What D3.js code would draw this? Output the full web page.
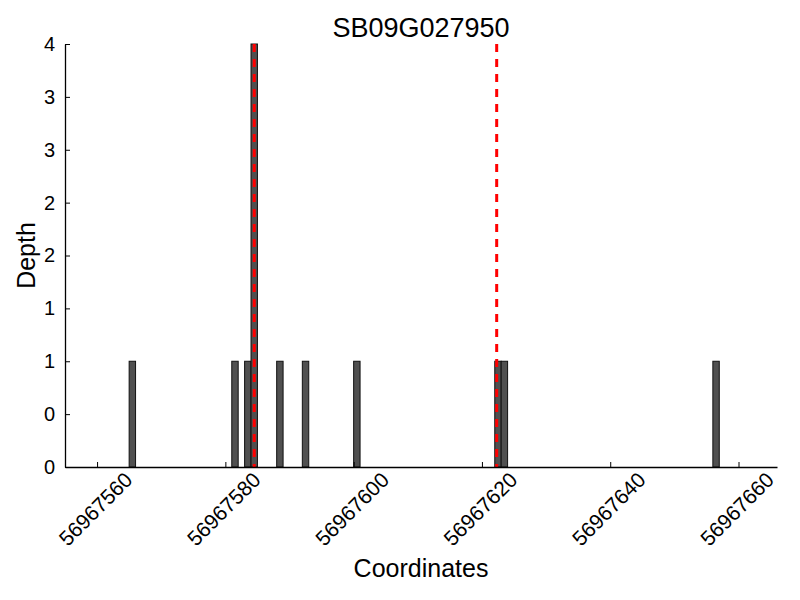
<!DOCTYPE html>
<html>
<head>
<meta charset="utf-8">
<script src="https://cdn.jsdelivr.net/npm/d3@7"></script>
<style>
  body { margin: 0; background: #fff; }
  svg { display: block; font-family: "Liberation Sans", Arial, sans-serif; }
</style>
</head>
<body>
<div class="depthchart"></div>
<script>
// read depth positions (bar left edge) and depth values
const positions = [56967565, 56967581, 56967583, 56967584, 56967588, 56967592, 56967600, 56967622, 56967623, 56967656];
const depths = [1, 1, 1, 4, 1, 1, 1, 1, 1, 1];
// red dashed markers
const markers = [56967584.5, 56967622.3];

const xTicks = [56967560, 56967580, 56967600, 56967620, 56967640, 56967660];
const yTicks = [0, 0.5, 1, 1.5, 2, 2.5, 3, 3.5, 4];
const yTickLabels = ["0", "0", "1", "1", "2", "2", "3", "3", "4"];

const title = "SB09G027950";

const width = 800;
const height = 600;
const margin = { top: 44, right: 23, bottom: 133, left: 65 };

const svg = d3
  .select(".depthchart")
  .append("svg")
  .attr("width", width)
  .attr("height", height);

const x = d3
  .scaleLinear()
  .domain([56967555, 56967666])
  .range([margin.left, width - margin.right]);

const y = d3
  .scaleLinear()
  .domain([0, 4])
  .range([height - margin.bottom, margin.top]);

// bars
svg
  .append("g")
  .selectAll("rect")
  .data(positions.map((p, i) => ({ pos: p, depth: depths[i] })))
  .enter()
  .append("rect")
  .attr("x", (d) => x(d.pos))
  .attr("width", (d) => x(d.pos + 1) - x(d.pos))
  .attr("y", (d) => y(d.depth))
  .attr("height", (d) => y(0) - y(d.depth))
  .style("fill", "#505050")
  .style("stroke", "#111")
  .style("stroke-width", 1);

// red dashed lines
svg
  .append("g")
  .selectAll("line")
  .data(markers)
  .enter()
  .append("line")
  .attr("x1", (d) => x(d))
  .attr("x2", (d) => x(d))
  .attr("y1", y(4))
  .attr("y2", y(0))
  .style("stroke", "#ff0000")
  .style("stroke-width", 3)
  .style("stroke-dasharray", "8,7");

// x axis
const xAxis = svg
  .append("g")
  .attr("transform", `translate(0, ${y(0)})`)
  .call(
    d3.axisBottom(x)
      .tickValues(xTicks)
      .tickFormat(d3.format("d"))
      .tickSizeInner(-5)
      .tickSizeOuter(0)
  );

xAxis.select(".domain").attr("stroke", "#000").attr("stroke-width", 1.3);
xAxis.selectAll(".tick line").attr("stroke", "#000");
xAxis
  .selectAll(".tick text")
  .attr("font-size", 21)
  .attr("font-family", "Liberation Sans, Arial, sans-serif")
  .attr("fill", "#000")
  .attr("text-anchor", "middle")
  .attr("dy", "0.35em")
  .attr("y", 0)
  .attr("transform", "translate(-2, 42) rotate(-45)");

// y axis
const yAxis = svg
  .append("g")
  .attr("transform", `translate(${x.range()[0]}, 0)`)
  .call(
    d3.axisLeft(y)
      .tickValues(yTicks)
      .tickFormat((d, i) => yTickLabels[i])
      .tickSizeInner(-5)
      .tickSizeOuter(0)
      .tickPadding(10)
  );

yAxis.select(".domain").attr("stroke", "#000").attr("stroke-width", 1.3);
yAxis.selectAll(".tick line").attr("stroke", "#000");
yAxis
  .selectAll(".tick text")
  .attr("font-size", 20)
  .attr("font-family", "Liberation Sans, Arial, sans-serif")
  .attr("fill", "#000");

// title
svg
  .append("text")
  .attr("x", (x.range()[0] + x.range()[1]) / 2)
  .attr("y", 37)
  .attr("text-anchor", "middle")
  .attr("font-size", 27)
  .text(title);

// axis labels
svg
  .append("text")
  .attr("x", (x.range()[0] + x.range()[1]) / 2)
  .attr("y", 577)
  .attr("text-anchor", "middle")
  .attr("font-size", 25)
  .text("Coordinates");

svg
  .append("text")
  .attr("transform", `translate(35, ${(y(0) + y(4)) / 2}) rotate(-90)`)
  .attr("text-anchor", "middle")
  .attr("font-size", 25)
  .text("Depth");
</script>
</body>
</html>
